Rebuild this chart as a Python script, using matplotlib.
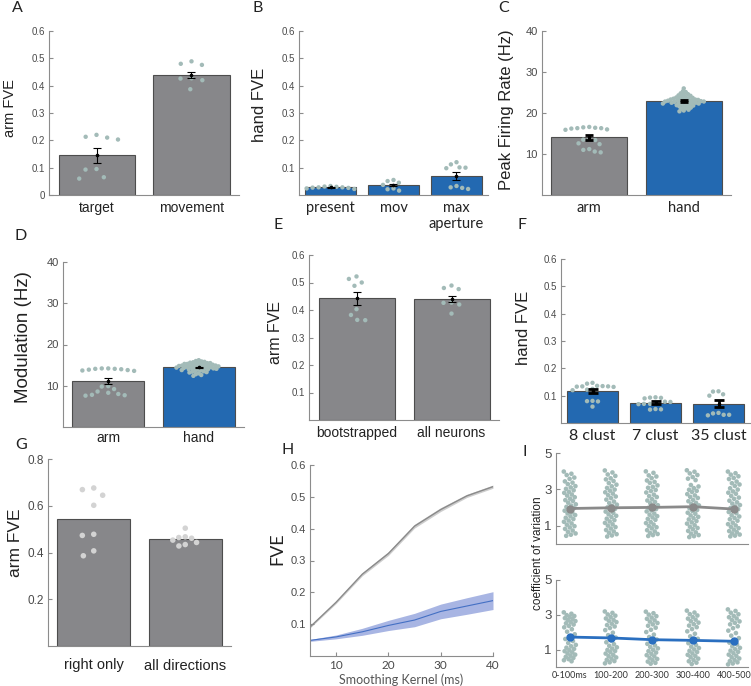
import matplotlib
matplotlib.use("Agg")
import matplotlib.pyplot as plt
import numpy as np

# ---------------- data ----------------
A_cats = ["target", "movement"]
A_bars = [0.145, 0.44]
A_sem = [0.027, 0.011]
A_target = [0.213, 0.210, 0.220, 0.203, 0.093, 0.095, 0.060, 0.065]
A_movement = [0.480, 0.476, 0.489, 0.427, 0.420, 0.426, 0.387]

B_cats = ["present", "mov", "max\naperture"]
B_bars = [0.029, 0.036, 0.069]
B_sem = [0.002, 0.004, 0.014]
B_present = [0.028, 0.027, 0.024, 0.030, 0.033, 0.031, 0.026, 0.028, 0.022]
B_mov = [0.055, 0.045, 0.051, 0.024, 0.016, 0.021, 0.037]
B_max = [0.100, 0.101, 0.120, 0.112, 0.098, 0.022, 0.028, 0.026, 0.033]

C_cats = ["arm", "hand"]
C_bars = [14.1, 22.9]
C_sem = [0.6, 0.2]
C_arm = [16.0, 16.3, 16.5, 16.6, 16.4, 16.2, 15.9, 16.3, 13.6, 13.4, 13.5,
         12.6, 12.4, 11.2, 11.0, 10.6, 10.4]
C_hand = [26.0, 25.3, 25.1, 24.8, 24.6, 24.5, 24.3, 24.2, 24.0, 23.9, 23.8,
          23.7, 23.6, 23.5, 23.5, 23.4, 23.3, 23.3, 23.2, 23.1, 23.1, 23.0,
          23.0, 22.9, 22.9, 22.8, 22.8, 22.7, 22.7, 22.6, 22.6, 22.5, 22.5,
          22.4, 22.3, 22.3, 22.2, 22.1, 22.0, 21.9, 21.8, 21.7, 21.6, 21.5,
          21.3, 21.2, 21.0, 20.8, 20.6, 20.4]

D_cats = ["arm", "hand"]
D_bars = [11.2, 14.5]
D_sem = [0.7, 0.15]
D_arm = [13.6, 13.7, 14.0, 14.1, 14.2, 14.2, 14.1, 13.9, 13.8,
         9.9, 9.8, 9.2, 8.6, 8.3, 8.0, 7.8, 7.7, 7.6]
D_hand = [16.2, 16.0, 15.9, 15.8, 15.7, 15.6, 15.5, 15.5, 15.4, 15.3, 15.3,
          15.2, 15.1, 15.1, 15.0, 15.0, 14.9, 14.9, 14.8, 14.8, 14.7, 14.7,
          14.6, 14.6, 14.5, 14.5, 14.4, 14.4, 14.3, 14.3, 14.2, 14.2, 14.1,
          14.0, 14.0, 13.9, 13.8, 13.7, 13.6, 13.5, 13.4, 13.3, 13.2, 13.0,
          12.8, 12.6, 12.4]

E_cats = ["bootstrapped", "all neurons"]
E_bars = [0.442, 0.440]
E_sem = [0.025, 0.011]
E_boot = [0.513, 0.522, 0.488, 0.500, 0.403, 0.382, 0.364, 0.363]
E_all = [0.480, 0.476, 0.489, 0.427, 0.420, 0.426, 0.387]

F_cats = ["8 clust", "7 clust", "35 clust"]
F_bars = [0.118, 0.075, 0.070]
F_sem = [0.007, 0.004, 0.013]
F_8 = [0.147, 0.144, 0.136, 0.134, 0.133, 0.132, 0.134, 0.135, 0.125, 0.122,
       0.120, 0.080, 0.079, 0.081, 0.060]
F_7 = [0.094, 0.093, 0.092, 0.090, 0.078, 0.077, 0.072, 0.070, 0.070, 0.069,
       0.050, 0.049, 0.051]
F_35 = [0.116, 0.105, 0.100, 0.115, 0.035, 0.030, 0.028, 0.030, 0.037]

G_cats = ["right only", "all directions"]
G_bars = [0.543, 0.457]
G_right = [0.602, 0.669, 0.676, 0.645, 0.478, 0.473, 0.407, 0.386]
G_all = [0.504, 0.461, 0.467, 0.464, 0.453, 0.434, 0.428, 0.443]

H_kernel = [5, 10, 15, 20, 25, 30, 35, 40]
H_arm = [0.091, 0.169, 0.257, 0.322, 0.408, 0.460, 0.503, 0.532]
H_arm_err = [0.003, 0.004, 0.005, 0.006, 0.006, 0.006, 0.005, 0.005]
H_hand = [0.049, 0.060, 0.076, 0.096, 0.113, 0.140, 0.157, 0.174]
H_hand_err = [0.003, 0.006, 0.011, 0.016, 0.021, 0.023, 0.026, 0.028]

I_cats = ["0-100ms", "100-200", "200-300", "300-400", "400-500"]
I_arm_mean = [1.95, 1.99, 2.01, 2.05, 1.92]
I_hand_mean = [1.72, 1.67, 1.57, 1.53, 1.48]
I_arm_1 = [3.98, 3.86, 3.79, 3.65, 3.58, 3.44, 3.37, 3.29, 3.18, 3.11, 3.03,
           2.95, 2.87, 2.81, 2.72, 2.66, 2.57, 2.49, 2.41, 2.36, 2.27, 2.18,
           2.11, 2.04, 1.97, 1.89, 1.83, 1.74, 1.68, 1.59, 1.52, 1.44, 1.37,
           1.29, 1.22, 1.13, 1.06, 0.98, 0.91, 0.83, 0.74, 0.67, 0.58, 0.51,
           0.45]
I_arm_2 = [4.04, 3.93, 3.82, 3.74, 3.61, 3.55, 3.46, 3.35, 3.26, 3.17, 3.08,
           2.99, 2.93, 2.84, 2.77, 2.68, 2.61, 2.52, 2.44, 2.33, 2.25, 2.16,
           2.09, 2.01, 1.93, 1.86, 1.78, 1.71, 1.63, 1.55, 1.48, 1.39, 1.31,
           1.24, 1.16, 1.08, 1.01, 0.93, 0.85, 0.77, 0.69, 0.62, 0.54, 0.47,
           0.41]
I_arm_3 = [3.99, 3.91, 3.77, 3.71, 3.62, 3.49, 3.41, 3.36, 3.22, 3.14, 3.09,
           2.97, 2.91, 2.83, 2.71, 2.63, 2.58, 2.46, 2.39, 2.31, 2.24, 2.13,
           2.07, 1.99, 1.92, 1.84, 1.79, 1.67, 1.61, 1.53, 1.46, 1.38, 1.33,
           1.21, 1.15, 1.07, 0.99, 0.92, 0.86, 0.76, 0.69, 0.61, 0.55, 0.49,
           0.44]
I_arm_4 = [4.05, 3.97, 3.88, 3.79, 3.68, 3.59, 3.51, 3.24, 3.16, 3.07, 2.98,
           2.92, 2.86, 2.74, 2.67, 2.59, 2.53, 2.42, 2.35, 2.26, 2.19, 2.12,
           2.03, 1.96, 1.87, 1.81, 1.72, 1.66, 1.57, 1.49, 1.42, 1.35, 1.26,
           1.19, 1.12, 1.03, 0.95, 0.88, 0.81, 0.72, 0.64, 0.57, 0.49, 0.43,
           0.38]
I_arm_5 = [3.98, 3.89, 3.81, 3.72, 3.63, 3.57, 3.43, 3.34, 3.27, 3.19, 3.06,
           2.99, 2.89, 2.82, 2.76, 2.64, 2.55, 2.48, 2.38, 2.29, 2.22, 2.14,
           2.06, 1.98, 1.91, 1.82, 1.76, 1.69, 1.58, 1.51, 1.43, 1.36, 1.28,
           1.17, 1.09, 1.02, 0.94, 0.87, 0.79, 0.71, 0.65, 0.58, 0.52, 0.46,
           0.42]
I_hand_1 = [3.14, 3.06, 2.98, 2.93, 2.87, 2.81, 2.76, 2.69, 2.64, 2.57, 2.51,
            2.44, 2.36, 2.28, 2.17, 2.03, 1.88, 1.74, 1.61, 1.49, 1.38, 1.27,
            1.19, 1.11, 1.04, 0.97, 0.91, 0.84, 0.78, 0.71, 0.65, 0.58, 0.52,
            0.45, 0.39, 0.33]
I_hand_2 = [3.19, 3.11, 3.02, 2.95, 2.88, 2.79, 2.71, 2.66, 2.58, 2.49, 2.41,
            2.33, 2.24, 2.12, 1.97, 1.83, 1.69, 1.54, 1.42, 1.31, 1.22, 1.13,
            1.06, 0.98, 0.92, 0.85, 0.77, 0.69, 0.62, 0.55, 0.48, 0.41, 0.34,
            0.27, 0.21]
I_hand_3 = [3.18, 3.09, 3.01, 2.92, 2.84, 2.77, 2.68, 2.61, 2.53, 2.45, 2.37,
            2.26, 2.14, 2.01, 1.86, 1.72, 1.58, 1.45, 1.33, 1.24, 1.15, 1.07,
            0.99, 0.91, 0.83, 0.76, 0.68, 0.61, 0.53, 0.46, 0.39, 0.31, 0.24,
            0.19]
I_hand_4 = [3.24, 3.13, 3.04, 2.96, 2.87, 2.78, 2.72, 2.63, 2.55, 2.46, 2.38,
            2.29, 2.18, 2.05, 1.91, 1.76, 1.62, 1.49, 1.37, 1.26, 1.17, 1.09,
            1.01, 0.93, 0.86, 0.78, 0.70, 0.63, 0.56, 0.48, 0.40, 0.33, 0.25,
            0.17]
I_hand_5 = [3.31, 3.22, 3.12, 3.03, 2.94, 2.86, 2.79, 2.70, 2.62, 2.54, 2.45,
            2.34, 2.23, 2.09, 1.95, 1.80, 1.66, 1.52, 1.40, 1.29, 1.19, 1.10,
            1.02, 0.94, 0.87, 0.79, 0.71, 0.64, 0.56, 0.49, 0.41, 0.34, 0.27,
            0.20, 0.15]

# ---------------- style ----------------
GRAY = "#87878a"
BLUE = "#2369b1"
EDGE = "#4d4d4d"
DOT = "#a3bbb8"
SPINE = "#8c8c8c"
TICKTXT = "#4a4a4a"
TXT = "#222222"
SANS = ["Liberation Sans", "DejaVu Sans"]
HUM = ["Lato", "DejaVu Sans"]

W, H = 751, 686
fig = plt.figure(figsize=(W / 100, H / 100), dpi=100)


def add_ax(l, r, t, b):
    return fig.add_axes([l / W, 1 - b / H, (r - l) / W, (b - t) / H])


def ftext(x, y, s, **kw):
    return fig.text(x / W, 1 - y / H, s, **kw)


def style(ax, ytick_fs=7, xfam=SANS, x_fs=10, xpad=4):
    for s in ["top", "right"]:
        ax.spines[s].set_visible(False)
    for s in ["left", "bottom"]:
        ax.spines[s].set_color(SPINE)
        ax.spines[s].set_linewidth(0.8)
    ax.tick_params(axis="y", direction="in", length=3, width=0.8,
                   color=SPINE, labelcolor=TICKTXT, labelsize=ytick_fs, pad=3)
    ax.tick_params(axis="x", length=0, labelcolor=TXT, labelsize=x_fs, pad=xpad)
    for lab in ax.get_yticklabels():
        lab.set_family(SANS)
    for lab in ax.get_xticklabels():
        lab.set_family(xfam)


def swarm_x(ax, xc, ys, gap):
    """Beeswarm layout: horizontal offsets (in data units) so dots do not overlap."""
    ys = np.asarray(ys, float)
    pts = ax.transData.transform(np.column_stack([np.full(len(ys), xc), ys]))
    ypx = pts[:, 1]
    p0 = ax.transData.transform([[xc, 0]])[0, 0]
    p1 = ax.transData.transform([[xc + 1, 0]])[0, 0]
    pxu = p1 - p0
    order = np.argsort(-ypx, kind="stable")
    placed = []
    offs = np.zeros(len(ys))
    for i in order:
        forb = []
        for xo, yo in placed:
            dy = abs(ypx[i] - yo)
            if dy < gap:
                dx = np.sqrt(gap ** 2 - dy ** 2)
                forb.append((xo - dx, xo + dx))
        cands = [0.0] + [a for a, b in forb] + [b for a, b in forb]
        cands.sort(key=lambda c: (abs(c), c))
        chosen = 0.0
        for c in cands:
            if all(not (a + 1e-6 < c < b - 1e-6) for a, b in forb):
                chosen = c
                break
        offs[i] = chosen
        placed.append((chosen, ypx[i]))
    return xc + offs / pxu


def bar_panel(ax, cats, bars, sems, pts, colors, ylim, yticks, gaps,
              dot_s=10, dot_c=DOT, err_lw=0.8, capsize=3, xfam=SANS, x_fs=10,
              ytick_fs=7, xpad=4, ytlabels=None):
    x = np.arange(1, len(cats) + 1)
    ax.set_xlim(0.5, len(cats) + 0.5)
    ax.set_ylim(*ylim)
    ax.bar(x, bars, width=0.8, color=colors, edgecolor=EDGE, linewidth=0.8,
           zorder=2)
    if np.isscalar(gaps):
        gaps = [gaps] * len(cats)
    for xi, p, g in zip(x, pts, gaps):
        xs = swarm_x(ax, xi, p, g)
        ax.scatter(xs, p, s=dot_s, color=dot_c, edgecolors="none", zorder=3)
    if sems is not None:
        ax.errorbar(x, bars, yerr=sems, fmt="o", color="black", ms=1.6,
                    elinewidth=err_lw, capsize=capsize, capthick=err_lw,
                    zorder=4)
    ax.set_xticks(x)
    ax.set_xticklabels(cats)
    ax.set_yticks(yticks)
    if ytlabels is not None:
        ax.set_yticklabels(ytlabels)
    style(ax, ytick_fs=ytick_fs, xfam=xfam, x_fs=x_fs, xpad=xpad)


def fvelabels(ticks):
    return ["0" if t == 0 else f"{t:.1f}" for t in ticks]


# ---------------- A ----------------
axA = add_ax(49, 239, 31, 195)
tA = [0, 0.1, 0.2, 0.3, 0.4, 0.5, 0.6]
bar_panel(axA, A_cats, A_bars, A_sem, [A_target, A_movement], GRAY,
          (0, 0.6), tA, gaps=11, ytlabels=fvelabels(tA))
ftext(10, 108, "arm FVE", rotation=90, ha="center", va="center",
      fontsize=10.5, family=SANS, color=TXT)

# ---------------- B ----------------
axB = add_ax(299, 488, 31, 195)
tB = [0.1, 0.2, 0.3, 0.4, 0.5, 0.6]
bar_panel(axB, B_cats, B_bars, B_sem, [B_present, B_mov, B_max], BLUE,
          (0, 0.6), tB, gaps=6, xfam=HUM, x_fs=10.5, ytlabels=fvelabels(tB))
ftext(260, 105, "hand FVE", rotation=90, ha="center", va="center",
      fontsize=12, family=SANS, color=TXT)

# ---------------- C ----------------
axC = add_ax(542, 731, 31, 195)
bar_panel(axC, C_cats, C_bars, C_sem, [C_arm, C_hand], [GRAY, BLUE],
          (0, 40), [10, 20, 30, 40], gaps=[6, 3.0], err_lw=2, capsize=3,
          xfam=HUM, x_fs=10.5, ytick_fs=8)
ftext(507, 110, "Peak Firing Rate (Hz)", rotation=90, ha="center",
      va="center", fontsize=12, family=SANS, color=TXT)

# ---------------- D ----------------
axD = add_ax(63, 244, 262, 427)
bar_panel(axD, D_cats, D_bars, D_sem, [D_arm, D_hand], [GRAY, BLUE],
          (0, 40), [10, 20, 30, 40], gaps=[6.5, 3.0], x_fs=10, ytick_fs=8,
          xpad=3)
ftext(24, 337, "Modulation (Hz)", rotation=90, ha="center", va="center",
      fontsize=13.5, family=SANS, color=TXT)

# ---------------- E ----------------
axE = add_ax(309, 499, 255, 420)
tE = [0.1, 0.2, 0.3, 0.4, 0.5, 0.6]
bar_panel(axE, E_cats, E_bars, E_sem, [E_boot, E_all], GRAY,
          (0, 0.6), tE, gaps=8, x_fs=10, ytlabels=fvelabels(tE))
ftext(276, 333, "arm FVE", rotation=90, ha="center", va="center",
      fontsize=11.5, family=SANS, color=TXT)

# ---------------- F ----------------
axF = add_ax(561, 750, 259, 423)
tF = [0.1, 0.2, 0.3, 0.4, 0.5, 0.6]
bar_panel(axF, F_cats, F_bars, F_sem, [F_8, F_7, F_35], BLUE,
          (0, 0.6), tF, gaps=5.5, err_lw=2, capsize=3.5, xfam=HUM, x_fs=11.5,
          ytlabels=fvelabels(tF))
ftext(523, 328, "hand FVE", rotation=90, ha="center", va="center",
      fontsize=12, family=SANS, color=TXT)

# ---------------- G ----------------
axG = add_ax(48, 231, 459, 646)
tG = [0.2, 0.4, 0.6, 0.8]
bar_panel(axG, G_cats, G_bars, None, [G_right, G_all], GRAY,
          (0, 0.8), tG, gaps=[11.5, 6.5], dot_s=16, dot_c="#d3d3d3",
          x_fs=10.5, ytick_fs=8.5, xpad=9, ytlabels=fvelabels(tG))
ftext(15, 543, "arm FVE", rotation=90, ha="center", va="center",
      fontsize=12.5, family=SANS, color=TXT)

# ---------------- H ----------------
axH = add_ax(310, 493, 465, 656)
axH.fill_between(H_kernel, np.array(H_arm) - np.array(H_arm_err),
                 np.array(H_arm) + np.array(H_arm_err), color="#cdcdcd", lw=0)
axH.plot(H_kernel, H_arm, color="#8a8a8a", lw=1)
axH.fill_between(H_kernel, np.array(H_hand) - np.array(H_hand_err),
                 np.array(H_hand) + np.array(H_hand_err), color="#a8b5e3", lw=0)
axH.plot(H_kernel, H_hand, color="#4470c4", lw=0.8)
axH.set_xlim(5, 40)
axH.set_ylim(0, 0.6)
axH.set_xticks([10, 20, 30, 40])
tH = [0.1, 0.2, 0.3, 0.4, 0.5, 0.6]
axH.set_yticks(tH)
axH.set_yticklabels(fvelabels(tH))
style(axH, ytick_fs=8, xfam=HUM, x_fs=8.5, xpad=3)
axH.tick_params(axis="x", direction="in", length=3, width=0.8, color=SPINE,
                labelcolor=TICKTXT)
ftext(277, 549, "FVE", rotation=90, ha="center", va="center", fontsize=13,
      family=HUM, color=TXT)
ftext(401, 680, "Smoothing Kernel (ms)", ha="center", va="center",
      fontsize=9, family=HUM, color="#555555")


# ---------------- I ----------------
def i_panel(ax, cols, means, line_color):
    x = np.arange(1, len(cols) + 1)
    ax.set_xlim(0.66, len(cols) + 0.34)
    ax.set_ylim(0, 5)
    golden = 0.6180339887
    for xi, ys in zip(x, cols):
        k = np.arange(len(ys))
        jit = ((k * golden) % 1.0 - 0.5) * 0.30  # strip-plot jitter (layout)
        ax.scatter(xi + jit, ys, s=11, color=DOT, edgecolors="none", zorder=2)
    ax.plot(x, means, color=line_color, lw=2, marker="o", ms=5, zorder=3)
    ax.set_xticks(x)
    ax.set_yticks([1, 3, 5])
    style(ax, ytick_fs=9.5, xfam=HUM, x_fs=6.5, xpad=3)


axI1 = add_ax(556, 748, 453, 544)
i_panel(axI1, [I_arm_1, I_arm_2, I_arm_3, I_arm_4, I_arm_5], I_arm_mean,
        "#8a8a8a")
axI1.set_xticklabels([])
axI2 = add_ax(556, 748, 580, 667)
i_panel(axI2, [I_hand_1, I_hand_2, I_hand_3, I_hand_4, I_hand_5], I_hand_mean,
        "#2a6fc0")
axI2.set_xticklabels(I_cats)
for lab in axI2.get_xticklabels():
    lab.set_family(HUM)
    lab.set_color("#333333")
ftext(538, 553, "coefficient of variation", rotation=90, ha="center",
      va="center", fontsize=8.5, family=SANS, color=TXT)

# ---------------- panel letters ----------------
for lab, (px, py) in {"A": (17, 8), "B": (258, 8), "C": (504, 8),
                      "D": (21, 236), "E": (278, 225), "F": (522, 225),
                      "G": (21, 445), "H": (288, 450), "I": (525, 452)}.items():
    ftext(px, py, lab, ha="center", va="center", fontsize=11.5, family=HUM,
          color=TXT)

fig.savefig("out.png", dpi=100)
